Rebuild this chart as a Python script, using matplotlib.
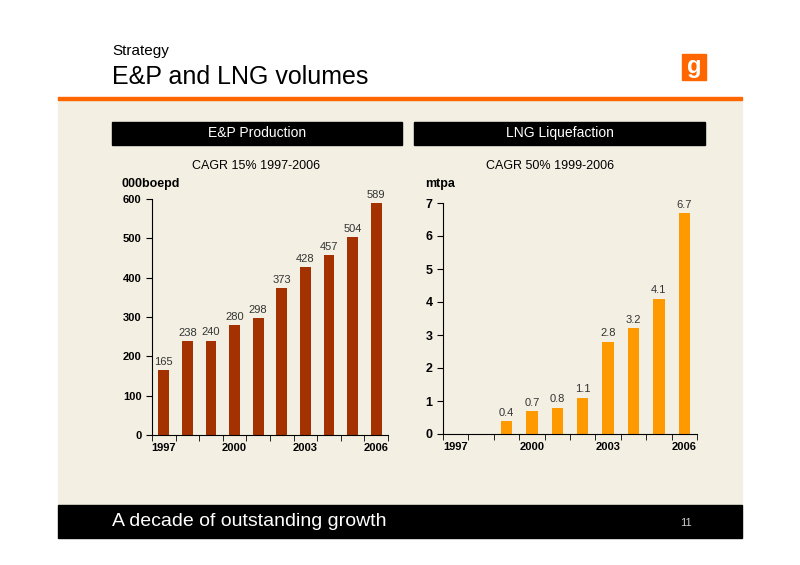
import matplotlib
matplotlib.use("Agg")
import matplotlib.pyplot as plt
from matplotlib.patches import Rectangle

years = list(range(1997, 2007))
ep_values = [165, 238, 240, 280, 298, 373, 428, 457, 504, 589]
lng_years = list(range(1999, 2007))
lng_values = [0.4, 0.7, 0.8, 1.1, 2.8, 3.2, 4.1, 6.7]
tick_years = [1997, 2000, 2003, 2006]

W, H = 800, 565
fig = plt.figure(figsize=(W/100, H/100), dpi=100)
fig.patch.set_facecolor("white")
plt.rcParams['font.family'] = ['Liberation Sans', 'DejaVu Sans']

def px(x, y, w, h):
    return [x/W, 1-(y+h)/H, w/W, h/H]

bg = fig.add_axes([0, 0, 1, 1]); bg.set_xlim(0, W); bg.set_ylim(H, 0); bg.axis("off")
bg.add_patch(Rectangle((58, 100), 684, 405, color="#f3f0e3"))
bg.add_patch(Rectangle((58, 97), 684, 3, color="#ff6600"))
bg.add_patch(Rectangle((58, 505), 684, 33, color="black"))
bg.text(112, 51, "Strategy", fontsize=11, va="center")
bg.text(112, 77, "E&P and LNG volumes", fontsize=18, va="center")
bg.text(112, 522, "A decade of outstanding growth", fontsize=14, va="center", color="white")
bg.text(692, 523, "11", fontsize=8, va="center", ha="right", color="#cccccc")
bg.add_patch(Rectangle((682, 54), 24, 26, color="#ff6600"))
bg.text(694, 66, "g", fontsize=17, fontweight="bold", color="white", ha="center", va="center")
for x0, x1, t in [(112, 402, "E&P Production"), (414, 705, "LNG Liquefaction")]:
    bg.add_patch(Rectangle((x0, 122), x1-x0, 23, color="black"))
    bg.text((x0+x1)/2, 133, t, color="white", fontsize=10, ha="center", va="center")
bg.text(256, 166, "CAGR 15% 1997-2006", fontsize=9, ha="center", va="center")
bg.text(550, 166, "CAGR 50% 1999-2006", fontsize=9, ha="center", va="center")
bg.text(121, 184, "000boepd", fontsize=9, va="center", fontweight="bold")
bg.text(425, 184, "mtpa", fontsize=9, va="center", fontweight="bold")

def style(ax, ylim, yt, fs):
    ax.set_facecolor("none")
    ax.set_xlim(-0.5, 9.5); ax.set_ylim(*ylim)
    for s in ["top", "right"]: ax.spines[s].set_visible(False)
    ax.set_yticks(yt)
    ax.set_yticklabels([str(v) for v in yt], fontsize=fs, fontweight="bold")
    ax.set_xticks([y - 1997 for y in tick_years])
    ax.set_xticklabels([str(y) for y in tick_years], fontsize=8, fontweight="bold")
    ax.set_xticks([i + 0.5 for i in range(-1, 10)], minor=True)
    ax.tick_params(axis="x", which="major", length=0, pad=6)
    ax.tick_params(axis="x", which="minor", length=4, direction="out")
    ax.tick_params(axis="y", length=4, direction="out")

a1 = fig.add_axes(px(152, 199, 236, 236))
a1.bar([y-1997 for y in years], ep_values, width=0.45, color="#a33200")
for y, v in zip(years, ep_values):
    a1.text(y-1997, v+8, str(v), ha="center", va="bottom", fontsize=8, color="#333333")
style(a1, (0, 600), list(range(0, 601, 100)), 8)

a2 = fig.add_axes(px(443, 203, 254, 231))
a2.bar([y-1997 for y in lng_years], lng_values, width=0.45, color="#ff9900")
for y, v in zip(lng_years, lng_values):
    a2.text(y-1997, v+0.1, f"{v}", ha="center", va="bottom", fontsize=8, color="#333333")
style(a2, (0, 7), list(range(0, 8)), 9)

fig.savefig("out.png", dpi=100)
